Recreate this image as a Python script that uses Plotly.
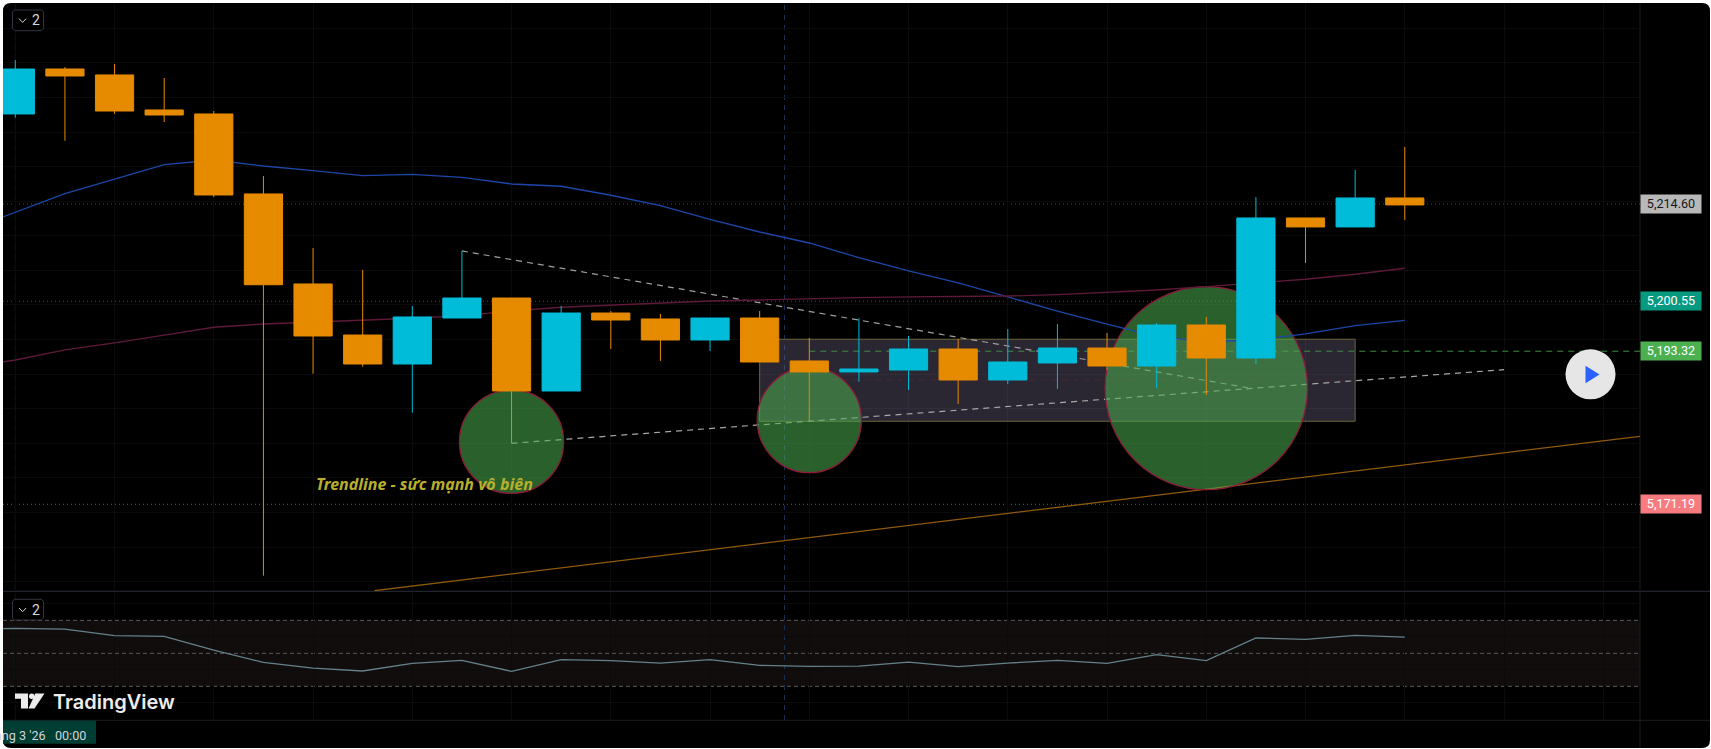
import plotly.graph_objects as go

W, H = 1711, 749

bars = list(range(29))
ohlc_open = [5227.61, 5234.11, 5233.25, 5228.19, 5227.61, 5216.05, 5203.04, 5195.66, 5191.47, 5198.12,
             5201.01, 5187.57, 5198.84, 5197.98, 5194.94, 5198.12, 5191.91, 5190.32, 5190.60, 5193.64,
             5189.16, 5191.62, 5193.78, 5191.18, 5197.11, 5192.34, 5212.58, 5211.28, 5215.47]
ohlc_high = [5235.42, 5234.40, 5234.84, 5232.81, 5228.04, 5218.65, 5208.24, 5205.06, 5199.86, 5207.81,
             5201.01, 5199.86, 5199.13, 5198.70, 5198.12, 5199.13, 5195.23, 5198.08, 5195.52, 5195.09,
             5196.53, 5197.25, 5195.95, 5197.40, 5198.27, 5215.59, 5212.58, 5219.51, 5222.84]
ohlc_low = [5227.07, 5223.75, 5227.61, 5226.45, 5215.59, 5160.87, 5190.07, 5191.08, 5184.43, 5198.12,
            5180.01, 5187.57, 5193.64, 5191.91, 5193.35, 5191.76, 5183.19, 5188.91, 5187.71, 5185.69,
            5188.58, 5187.86, 5190.60, 5188.00, 5186.99, 5191.47, 5206.07, 5211.28, 5212.29]
ohlc_close = [5234.11, 5233.10, 5228.04, 5227.46, 5215.90, 5202.93, 5195.52, 5191.47, 5198.27, 5201.01,
              5187.57, 5198.84, 5197.83, 5194.94, 5198.12, 5191.76, 5190.32, 5190.75, 5193.64, 5189.16,
              5191.76, 5193.78, 5191.18, 5197.11, 5192.34, 5212.58, 5211.28, 5215.47, 5214.46]

line_x = list(range(-1, 29))
ma_blue = [5210.71, 5213.40, 5216.09, 5218.21, 5220.28, 5220.96, 5220.09, 5219.41, 5218.69, 5218.89,
           5218.46, 5217.49, 5217.16, 5215.86, 5214.35, 5212.39, 5210.55, 5208.96, 5206.84, 5204.92,
           5203.18, 5201.16, 5199.13, 5197.25, 5195.42, 5194.70, 5194.94, 5195.81, 5197.01, 5197.79]
ma_red = [5190.98, 5192.05, 5193.50, 5194.51, 5195.66, 5196.78, 5197.25, 5197.50, 5197.83, 5198.08,
          5198.45, 5199.13, 5199.67, 5200.00, 5200.33, 5200.58, 5200.72, 5200.91, 5201.06, 5201.16,
          5201.20, 5201.30, 5201.49, 5201.78, 5202.17, 5202.65, 5203.22, 5203.72, 5204.44, 5205.31]
rsi = [64.2, 65.2, 64.7, 60.7, 60.3, 52.0, 44.5, 41.1, 39.3, 43.9, 45.8, 39.1, 46.2, 45.6, 44.1, 46.2,
       42.7, 42.1, 42.3, 44.7, 41.9, 44.1, 45.8, 43.9, 49.2, 45.6, 59.3, 58.5, 60.9, 59.9]

price_levels = [5214.60, 5200.55, 5193.32, 5171.19]
price_text = ["5,214.60", "5,200.55", "5,193.32", "5,171.19"]
price_bg = ["#b8b8b8", "#089981", "#4caf50", "#f77c80"]
price_fg = ["#131722", "#ffffff", "#ffffff", "#ffffff"]
price_line = ["#4a4a4a", "#0b6b5c", "#3f8f42", "#9c4548"]

XR = [-0.248, 32.74]
YR = [5158.66, 5243.65]
RR = [9.6, 87.2]


def PX(x):
    return x / W


def PY(y):
    return 1 - y / H


def path_px(points, close=True):
    s = "M" + " L".join(f"{PX(x):.5f},{PY(y):.5f}" for x, y in points)
    return s + (" Z" if close else "")


fig = go.Figure()

fig.add_trace(go.Scatter(x=line_x, y=ma_blue, mode="lines", line=dict(color="#1d46a8", width=1.3),
                         xaxis="x", yaxis="y", hoverinfo="skip", showlegend=False))
fig.add_trace(go.Scatter(x=line_x, y=ma_red, mode="lines", line=dict(color="#5e1a38", width=1.3),
                         xaxis="x", yaxis="y", hoverinfo="skip", showlegend=False))
fig.add_trace(go.Candlestick(
    x=bars, open=ohlc_open, high=ohlc_high, low=ohlc_low, close=ohlc_close,
    xaxis="x2", yaxis="y2", whiskerwidth=0, showlegend=False, hoverinfo="skip",
    increasing=dict(line=dict(color="#00bcd8", width=1), fillcolor="#00bcd8"),
    decreasing=dict(line=dict(color="#e68a00", width=1), fillcolor="#e68a00"),
))
fig.add_trace(go.Scatter(x=line_x, y=rsi, mode="lines", line=dict(color="#64818a", width=1.3),
                         xaxis="x3", yaxis="y3", hoverinfo="skip", showlegend=False))

shapes = []
r = 8
shapes.append(dict(type="path", xref="paper", yref="paper", layer="below", line_width=0, fillcolor="#000000",
                   path=f"M{PX(3)},{PY(3 + r)} Q{PX(3)},{PY(3)} {PX(3 + r)},{PY(3)} L{PX(1710 - r)},{PY(3)} "
                        f"Q{PX(1710)},{PY(3)} {PX(1710)},{PY(3 + r)} L{PX(1710)},{PY(748 - r)} "
                        f"Q{PX(1710)},{PY(748)} {PX(1710 - r)},{PY(748)} L{PX(3 + r)},{PY(748)} "
                        f"Q{PX(3)},{PY(748)} {PX(3)},{PY(748 - r)} Z"))

MID = "between"

# RSI band
shapes.append(dict(type="rect", xref="paper", yref="y3", layer=MID, x0=PX(3), x1=PX(1640), y0=30, y1=70,
                   fillcolor="rgba(40,29,29,0.45)", line_width=0))

# pane separators and axis border
for y, c in [(591.3, "#2a2e39"), (720.3, "#1c1c1c")]:
    shapes.append(dict(type="line", xref="paper", yref="paper", layer=MID, x0=PX(3), x1=PX(1710),
                       y0=PY(y), y1=PY(y), line=dict(color=c, width=1)))
shapes.append(dict(type="line", xref="paper", yref="paper", layer=MID, x0=PX(1640), x1=PX(1640),
                   y0=PY(3), y1=PY(748), line=dict(color="#1c1c1c", width=1)))

# vertical crosshair style markers
for xv, c in [(0, "#0e3a30"), (15.5, "#1b3057")]:
    shapes.append(dict(type="line", xref="x", yref="paper", layer=MID, x0=xv, x1=xv,
                       y0=PY(720), y1=PY(3), line=dict(color=c, width=1, dash="5px 5px")))

for lvl in (30, 50, 70):
    shapes.append(dict(type="line", xref="paper", yref="y3", layer=MID, x0=PX(3), x1=PX(1640), y0=lvl, y1=lvl,
                       line=dict(color="#5a5a5a", width=1, dash="4px 3px")))

# price lines
for i in (0, 1, 3):
    shapes.append(dict(type="line", xref="paper", yref="y", layer=MID, x0=PX(3), x1=PX(1640),
                       y0=price_levels[i], y1=price_levels[i], line=dict(color=price_line[i], width=1, dash="1px 3px")))

# rectangle drawing
shapes.append(dict(type="rect", xref="x", yref="y", layer=MID, x0=15, x1=27, y0=5183.19, y1=5195.05,
                   fillcolor="rgba(120,108,143,0.35)", line=dict(color="#6d6338", width=1)))
# levels starting at bar 16
shapes.append(dict(type="line", xref="x", yref="y", layer=MID, x0=16, x1=32.74,
                   y0=price_levels[2], y1=price_levels[2], line=dict(color=price_line[2], width=1, dash="6px 5px")))
shapes.append(dict(type="line", xref="x", yref="y", layer=MID, x0=16, x1=26.8, y0=5189.16, y1=5189.16,
                   line=dict(color="#4a2638", width=1, dash="6px 5px")))
# orange trend line
shapes.append(dict(type="line", xref="x", yref="y", layer=MID, x0=7.236, x1=32.74, y0=5158.70, y1=5181.02,
                   line=dict(color="#8f5a0c", width=1.3)))
# dashed trend lines
shapes.append(dict(type="line", xref="x", yref="y", layer=MID, x0=9, x1=24.9, y0=5207.81, y1=5187.96,
                   line=dict(color="#a0a0a0", width=1.2, dash="6px 5px")))
shapes.append(dict(type="line", xref="x", yref="y", layer=MID, x0=10, x1=30, y0=5180.01, y1=5190.65,
                   line=dict(color="#a8a8a8", width=1.2, dash="6px 5px")))
# circles
for (a, b, c, d) in [(8.95, 11.05, 5172.78, 5187.71), (14.95, 17.05, 5175.76, 5191.00),
                     (21.96, 26.04, 5173.30, 5202.65)]:
    shapes.append(dict(type="circle", xref="x", yref="y", layer=MID, x0=a, x1=b, y0=c, y1=d,
                       fillcolor="rgba(76,175,80,0.55)", line=dict(color="#8c1c3a", width=1.3)))

# play button
shapes.append(dict(type="circle", xref="paper", yref="paper", x0=PX(1565.5), x1=PX(1615.5), y0=PY(399.3), y1=PY(349.3),
                   fillcolor="#e6e6e6", line_width=0))
shapes.append(dict(type="path", xref="paper", yref="paper", fillcolor="#2962ff", line_width=0,
                   path=path_px([(1585.5, 365.8), (1599.5, 374.5), (1585.5, 383.2)])))

# pane collapse buttons
for yt, yb in [(10, 30.7), (599.3, 620)]:
    mid = (yt + yb) / 2
    shapes.append(dict(type="path", xref="paper", yref="paper", fillcolor="#000000",
                       line=dict(color="#333640", width=1),
                       path=path_px([(12.5, yt + 2), (14.5, yt), (41.5, yt), (43.5, yt + 2), (43.5, yb - 2),
                                     (41.5, yb), (14.5, yb), (12.5, yb - 2)])))
    shapes.append(dict(type="path", xref="paper", yref="paper", line=dict(color="#d8d8d8", width=1),
                       path=path_px([(19, mid - 1.7), (22.6, mid + 2), (26.2, mid - 1.7)], close=False)))

# TradingView mark
for pts in [[(15, 693.5), (28, 693.5), (28, 708.5), (21, 708.5), (21, 698.7), (15, 698.7)],
            [(35.3, 693.5), (44.5, 693.5), (34.5, 708.5), (28.5, 708.5)]]:
    shapes.append(dict(type="path", xref="paper", yref="paper", fillcolor="#ececec", line_width=0, path=path_px(pts)))
shapes.append(dict(type="circle", xref="paper", yref="paper", x0=PX(29), x1=PX(34.4), y0=PY(699), y1=PY(693.6),
                   fillcolor="#ececec", line_width=0))

# time label
shapes.append(dict(type="rect", xref="paper", yref="paper", x0=PX(3), x1=PX(96), y0=PY(743.7), y1=PY(720.5),
                   fillcolor="#003d33", line_width=0))

annotations = []
for p, t, bg, fg in zip(price_levels, price_text, price_bg, price_fg):
    annotations.append(dict(xref="paper", yref="y", x=PX(1671), y=p, text=t, showarrow=False, xanchor="center",
                            yanchor="middle", bgcolor=bg, width=60, height=17.5,
                            font=dict(family="Roboto", size=12.6, color=fg), borderpad=0))
annotations.append(dict(xref="x", yref="y", x=6.02, y=5174.13, text="<b><i>Trendline - sức mạnh vô biên</i></b>",
                        showarrow=False, xanchor="left", yanchor="middle",
                        font=dict(family="Noto Sans", size=16, color="#b8b02c")))
for yy in (20, 609.5):
    annotations.append(dict(xref="paper", yref="paper", x=PX(35.5), y=PY(yy), text="2", showarrow=False,
                            xanchor="center", yanchor="middle", font=dict(family="Roboto", size=14, color="#d8d8d8")))
annotations.append(dict(xref="paper", yref="paper", x=PX(50.5), y=PY(701.5), text="TradingView", showarrow=False,
                        xanchor="left", yanchor="middle",
                        font=dict(family="Inter", size=20, weight=600, color="#ececec")))
annotations.append(dict(xref="paper", yref="paper", x=PX(88), y=PY(735), text="áng 3 '26\u00a0\u00a0\u00a000:00",
                        showarrow=False, xanchor="right", yanchor="middle",
                        font=dict(family="Roboto", size=12.6, color="#d1d4dc")))

dom_x = [PX(3), PX(1640)]
grid = "#0b0b0b"
common_x = dict(domain=dom_x, range=XR, showticklabels=False, ticks="", zeroline=False, showline=False)
common_y = dict(showticklabels=False, ticks="", zeroline=False, showline=False)

fig.update_layout(
    width=W, height=H, margin=dict(l=0, r=0, t=0, b=0), autosize=False,
    paper_bgcolor="#ffffff", plot_bgcolor="rgba(0,0,0,0)",
    showlegend=False, hovermode=False, boxmode="overlay", boxgap=0.23, boxgroupgap=0,
    shapes=shapes, annotations=annotations,
    xaxis=dict(**common_x, anchor="y", showgrid=True, gridcolor=grid, tick0=0, dtick=2),
    xaxis2=dict(**common_x, anchor="y2", overlaying="x", showgrid=False, rangeslider=dict(visible=False)),
    xaxis3=dict(**common_x, anchor="y3", showgrid=True, gridcolor=grid, tick0=0, dtick=2),
    yaxis=dict(**common_y, domain=[PY(591), PY(3)], range=YR, anchor="x", showgrid=True, gridcolor=grid, tick0=5000, dtick=5),
    yaxis2=dict(**common_y, domain=[PY(591), PY(3)], range=YR, anchor="x2", overlaying="y", showgrid=False),
    yaxis3=dict(**common_y, domain=[PY(720), PY(592)], range=RR, anchor="x3", showgrid=True, gridcolor=grid, tick0=0, dtick=20),
)

fig.write_html("out.html", config=dict(displayModeBar=False),
               post_script="document.body.style.margin='0';document.body.style.overflow='hidden';")
